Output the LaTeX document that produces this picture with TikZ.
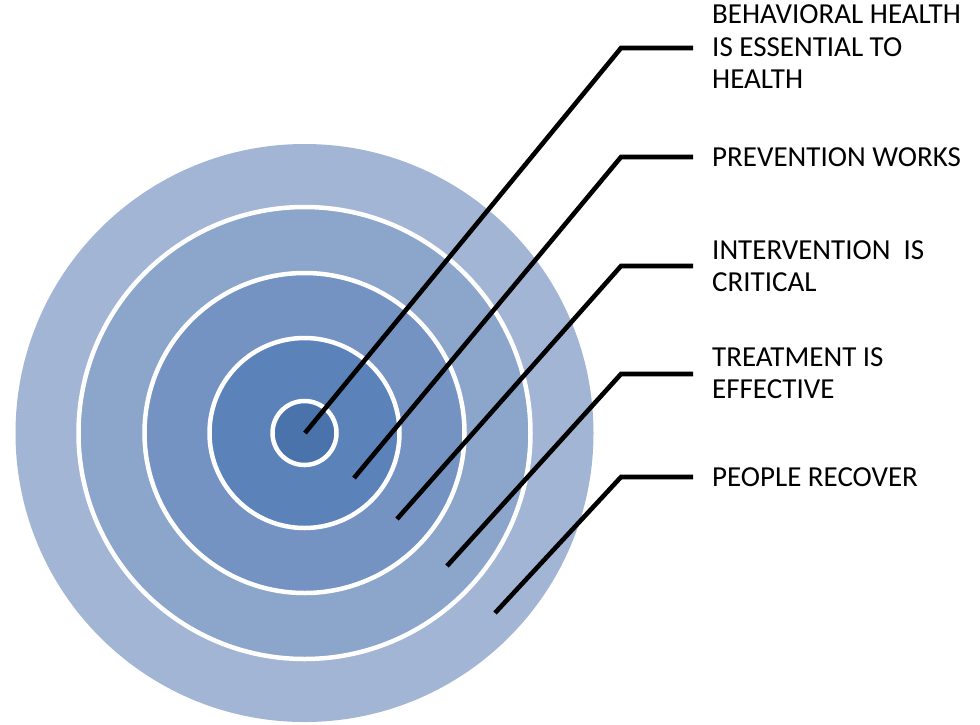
\documentclass[tikz,border=0pt]{standalone}
\usepackage{fontspec}
\setmainfont{Carlito}
\definecolor{ringA}{HTML}{A3B5D5}
\definecolor{ringB}{HTML}{8BA5CB}
\definecolor{ringC}{HTML}{7593C2}
\definecolor{ringD}{HTML}{5B82B9}
\definecolor{ringE}{HTML}{4A73AB}
\begin{document}
\begin{tikzpicture}[x=1pt,y=-1pt,
  ringline/.style={draw=white,line width=4.5pt},
  leader/.style={draw=black,line width=4.6pt,line join=miter},
  label/.style={anchor=west,inner sep=0pt,align=left,font=\fontsize{29}{32.5}\selectfont}]
\useasboundingbox (0,0) rectangle (980,724);
\coordinate (c) at (304.5,433);
\fill[ringA] (c) circle[radius=289];
\fill[ringB,ringline] (c) circle[radius=226];
\fill[ringC,ringline] (c) circle[radius=160];
\fill[ringD,ringline] (c) circle[radius=95];
\fill[ringE,ringline] (c) circle[radius=32];
% labels
\node[label] (t1) at (712,47) {BEHAVIORAL HEALTH\\IS ESSENTIAL TO\\HEALTH};
\node[label] (t2) at (712,157) {PREVENTION WORKS};
\node[label] (t3) at (712,266) {INTERVENTION~~IS\\CRITICAL};
\node[label] (t4) at (712,373) {TREATMENT IS\\EFFECTIVE};
\node[label] (t5) at (712,477) {PEOPLE RECOVER};
% leader points
\coordinate (e1) at (305,433); \coordinate (k1) at (621,48);  \coordinate (h1) at (693,48);
\coordinate (e2) at (354,478); \coordinate (k2) at (621,157); \coordinate (h2) at (693,157);
\coordinate (e3) at (397,519); \coordinate (k3) at (621,266); \coordinate (h3) at (693,266);
\coordinate (e4) at (447,566); \coordinate (k4) at (621,374); \coordinate (h4) at (693,374);
\coordinate (e5) at (495,613); \coordinate (k5) at (621,477); \coordinate (h5) at (693,477);
\draw[leader] (e1) -- (k1) -- (h1);
\draw[leader] (e2) -- (k2) -- (h2);
\draw[leader] (e3) -- (k3) -- (h3);
\draw[leader] (e4) -- (k4) -- (h4);
\draw[leader] (e5) -- (k5) -- (h5);
\end{tikzpicture}
\end{document}
